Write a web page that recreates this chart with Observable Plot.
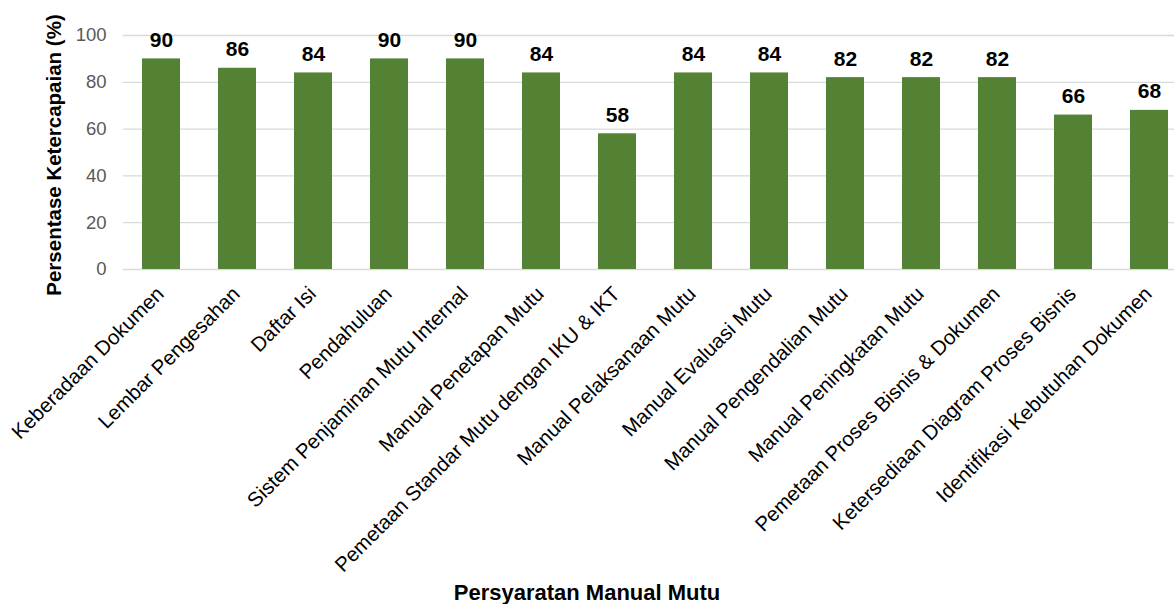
<!DOCTYPE html>
<html>
<head>
<meta charset="utf-8">
<script src="https://cdn.jsdelivr.net/npm/d3@7"></script>
<script src="https://cdn.jsdelivr.net/npm/@observablehq/plot@0.6"></script>
<style>
  html, body { margin: 0; padding: 0; background: #fff; }
  svg { display: block; }
</style>
</head>
<body>
<div id="chart"></div>
<script>
const categories = [
  "Keberadaan Dokumen",
  "Lembar Pengesahan",
  "Daftar Isi",
  "Pendahuluan",
  "Sistem Penjaminan Mutu Internal",
  "Manual Penetapan Mutu",
  "Pemetaan Standar Mutu dengan IKU & IKT",
  "Manual Pelaksanaan Mutu",
  "Manual Evaluasi Mutu",
  "Manual Pengendalian Mutu",
  "Manual Peningkatan Mutu",
  "Pemetaan Proses Bisnis & Dokumen",
  "Ketersediaan Diagram Proses Bisnis",
  "Identifikasi Kebutuhan Dokumen"
];
const values = [90, 86, 84, 90, 90, 84, 58, 84, 84, 82, 82, 82, 66, 68];
const yTicks = [0, 20, 40, 60, 80, 100];
const xTitle = "Persyaratan Manual Mutu";
const yTitle = "Persentase Ketercapaian (%)";

const data = categories.map((c, i) => ({category: c, value: values[i]}));

const FONT = "'Liberation Sans', Arial, sans-serif";
const chart = Plot.plot({
  width: 1174,
  height: 604,
  marginLeft: 123,
  marginRight: 0,
  marginTop: 35,
  marginBottom: 335,
  style: {fontFamily: FONT, background: "#fff"},
  x: {domain: categories, range: [123, 1187], paddingInner: 0.5, paddingOuter: 0.25, label: null},
  y: {domain: [0, 100], label: null},
  marks: [
    Plot.ruleY(yTicks, {stroke: "#d9d9d9", strokeWidth: 1.3}),
    Plot.barY(data, {x: "category", y: "value", fill: "#548235"}),
    Plot.text(data, {x: "category", y: "value", text: d => String(d.value), dy: -12, lineAnchor: "bottom",
      fontSize: 21, fontWeight: "bold", fill: "#000"}),
    Plot.axisY({ticks: yTicks, tickSize: 0, tickPadding: 17, fontSize: 18.5, color: "#595959", label: null}),
    Plot.axisX({tickSize: 0, tickPadding: 21, dx: -1, tickRotate: -45, fontSize: 20.5, color: "#000", label: null})
  ]
});
document.getElementById("chart").appendChild(chart);

const svg = d3.select(chart);
svg.append("text")
  .attr("x", 587).attr("y", 600)
  .attr("text-anchor", "middle")
  .attr("font-size", 22).attr("font-weight", "bold")
  .attr("font-family", FONT)
  .attr("fill", "#000")
  .text(xTitle);
svg.append("text")
  .attr("transform", "translate(61,155) rotate(-90)")
  .attr("text-anchor", "middle")
  .attr("font-size", 20.5).attr("font-weight", "bold")
  .attr("font-family", FONT)
  .attr("fill", "#000")
  .text(yTitle);
</script>
</body>
</html>
